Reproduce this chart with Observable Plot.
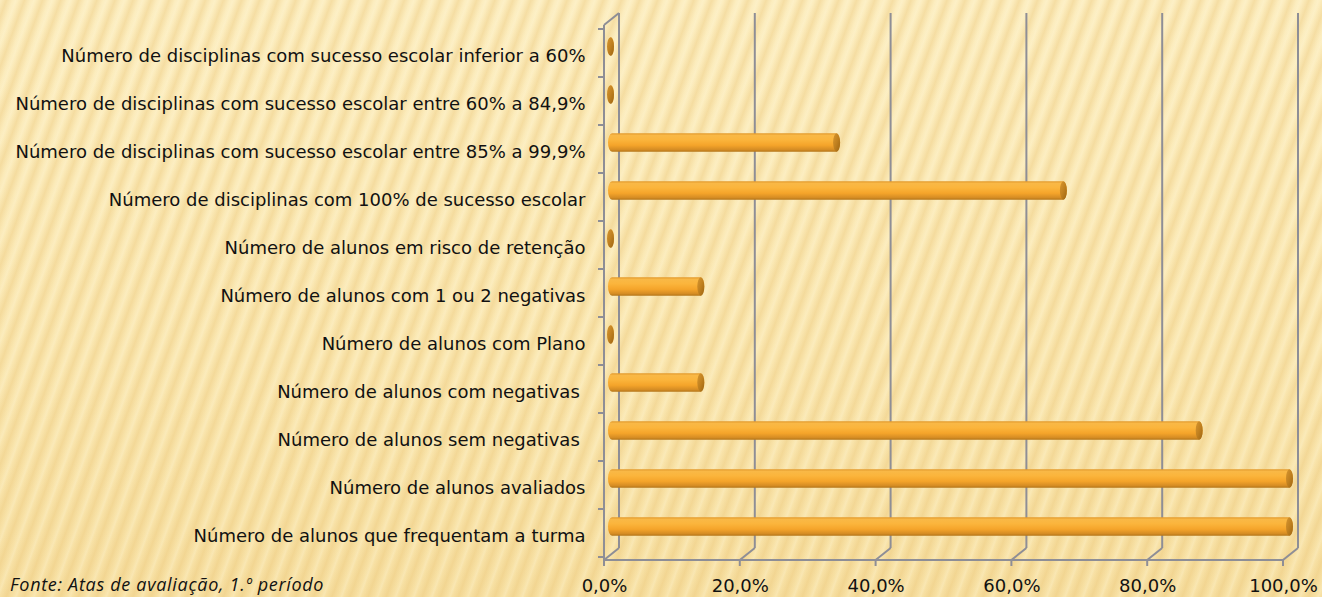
<!DOCTYPE html>
<html><head><meta charset="utf-8">
<script src="https://cdn.jsdelivr.net/npm/d3@7"></script>
<script src="https://cdn.jsdelivr.net/npm/@observablehq/plot@0.6"></script>
<style>
html,body{margin:0;padding:0;}
body{width:1322px;height:597px;overflow:hidden;position:relative;
background:
 repeating-linear-gradient(110deg, rgba(255,250,225,0) 0px, rgba(232,192,110,0.34) 6px, rgba(255,250,225,0) 12px, rgba(255,248,220,0.25) 15px, rgba(255,250,225,0) 17px),
 linear-gradient(180deg, #fcedbf 0%, #fae7b1 60%, #f7e0a3 100%);}
#chart svg{display:block;overflow:visible}
#chart svg text{white-space:pre}
#fonte{position:absolute;left:10px;top:572px;font:italic 18px "Open Sans";letter-spacing:0.7px;color:#111;white-space:nowrap}
</style></head>
<body><div id="chart"></div><div id="fonte">Fonte: Atas de avaliação, 1.º período</div>
<script>
const categories = [
  "Número de disciplinas com sucesso escolar inferior a 60%",
  "Número de disciplinas com sucesso escolar entre 60% a 84,9%",
  "Número de disciplinas com sucesso escolar entre 85% a 99,9%",
  "Número de disciplinas com 100% de sucesso escolar",
  "Número de alunos em risco de retenção",
  "Número de alunos com 1 ou 2 negativas",
  "Número de alunos com Plano",
  "Número de alunos com negativas ",
  "Número de alunos sem negativas ",
  "Número de alunos avaliados",
  "Número de alunos que frequentam a turma"
];
const values = [0, 0, 33.3, 66.7, 0, 13.3, 0, 13.3, 86.7, 100, 100];
const xTicks = [0, 20, 40, 60, 80, 100];

const data = categories.map((c, i) => ({cat: c, val: values[i]}));
const fmt = d => d.toFixed(1).replace(".", ",") + "%";
const GRID = "#8e8e96";
const DX = 15, DY = -12;

function wall3d(index, scales, values, dims) {
  const x = scales.x, y = scales.y;
  const t = dims.marginTop, b = dims.height - dims.marginBottom;
  const svg = d3.create("svg:g");
  const defs = svg.append("defs");
  const bg = defs.append("linearGradient").attr("id", "barGrad").attr("x1", 0).attr("y1", 0).attr("x2", 0).attr("y2", 1);
  [[0, "#e39a2c"], [0.12, "#f9b846"], [0.35, "#fbb53c"], [0.65, "#f5a42a"], [0.88, "#d68d24"], [1, "#b57619"]]
    .forEach(([o, c]) => bg.append("stop").attr("offset", o).attr("stop-color", c));
  const cg = defs.append("linearGradient").attr("id", "capGrad").attr("x1", 0).attr("y1", 0).attr("x2", 1).attr("y2", 1);
  [[0, "#d79630"], [0.5, "#c0801f"], [1, "#9c6513"]]
    .forEach(([o, c]) => cg.append("stop").attr("offset", o).attr("stop-color", c));
  const g = svg.append("g").attr("stroke", GRID).attr("stroke-width", 2).attr("fill", "none");
  const line = (a, b1, c, d) => g.append("line").attr("x1", a).attr("y1", b1).attr("x2", c).attr("y2", d);
  for (const v of xTicks) {
    const px = x(v);
    line(px + DX, t + DY, px + DX, b + DY);
    line(px, b, px + DX, b + DY);
    line(px, b, px, b + 6);
  }
  const x0 = x(xTicks[0]);
  line(x0, b, x(xTicks[xTicks.length - 1]), b);
  line(x0, t, x0, b);
  line(x0, t, x0 + DX, t + DY);
  const bw = y.bandwidth ? y.bandwidth() : (b - t) / categories.length;
  categories.forEach(c => line(x0 - 6, y(c), x0, y(c)));
  line(x0 - 6, y(categories[categories.length - 1]) + bw, x0, y(categories[categories.length - 1]) + bw);
  return svg.node();
}

const plot = Plot.plot({
  width: 1322, height: 597,
  marginLeft: 604, marginRight: 39, marginTop: 25, marginBottom: 37,
  style: {background: "transparent", fontFamily: "DejaVu Sans", fontSize: "18px", color: "#111", overflow: "visible"},
  x: {domain: [0, 100], axis: null},
  y: {domain: categories, padding: 0, axis: null},
  marks: [
    wall3d,
    Plot.text(data, {y: "cat", text: "cat", frameAnchor: "left", textAnchor: "end", lineAnchor: "middle", dx: -19, dy: 3, fill: "#111", fontSize: 18}),
    Plot.text(xTicks, {x: d => d, text: fmt, frameAnchor: "bottom", textAnchor: "middle", lineAnchor: "middle", dy: 26, fill: "#111", fontSize: 18}),
    Plot.barX(data, {x1: 0, x2: "val", y: "cat", fill: "url(#barGrad)", insetTop: 14.8, insetBottom: 14.8, dy: -6.5, dx: 10, insetLeft: -6, rx: 4, ry: 9.5}),
    Plot.barX(data, {x1: "val", x2: "val", y: "cat", fill: "url(#capGrad)", insetTop: 14.8, insetBottom: 14.8, dy: -6.5, dx: 10, insetLeft: -7, insetRight: 0, rx: 3.5, ry: 9.5})
  ]
});
document.getElementById("chart").appendChild(plot);
</script>
</body></html>
